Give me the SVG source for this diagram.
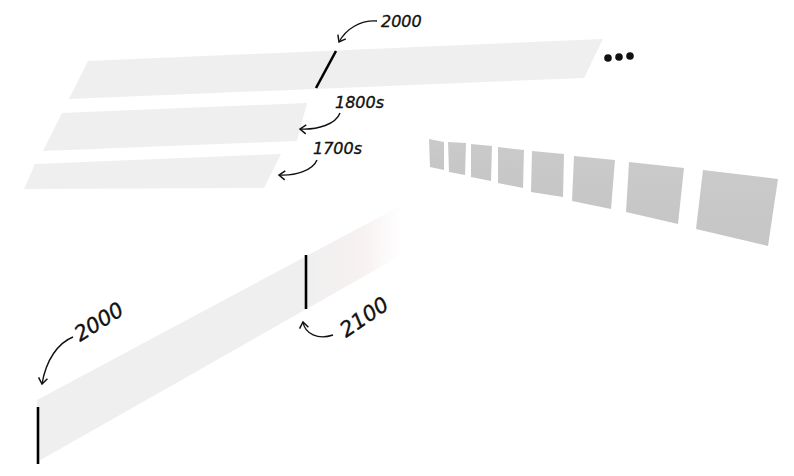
<svg xmlns="http://www.w3.org/2000/svg" width="794" height="476" viewBox="0 0 794 476">
<style>
.band{fill:#efefef}
.sq{fill:url(#sqg)}
.tick{stroke:#000;stroke-width:2.6;fill:none}
.lbl{font-family:"DejaVu Sans",sans-serif;font-style:italic;font-size:16px;fill:#111;stroke:#111;stroke-width:0.35}
.big{font-size:21px}
.arr{stroke:#111;stroke-width:1.4;fill:none;marker-end:url(#ah)}
</style>
<defs>
<linearGradient id="sqg" x1="0" y1="0" x2="0" y2="1">
<stop offset="0" stop-color="#cacaca"/><stop offset="1" stop-color="#c6c6c6"/>
</linearGradient>
<linearGradient id="fade" gradientUnits="userSpaceOnUse" x1="300" y1="0" x2="402" y2="0">
<stop offset="0" stop-color="#efefef"/><stop offset="0.6" stop-color="#f7f1f1"/><stop offset="1" stop-color="#ffffff"/>
</linearGradient>
<marker id="ah" markerUnits="userSpaceOnUse" markerWidth="14" markerHeight="14" refX="0" refY="0" viewBox="-8 -7 10 14" orient="auto">
<path d="M-6,-4.5 L0,0 L-6,4.5" fill="none" stroke="#111" stroke-width="1.5"/>
</marker>
</defs>

<g id="band-2000">
<polygon class="band" points="88,61 603,39 584,78 69,99"/>
<line class="tick" x1="336" y1="51" x2="316" y2="88"/>
</g>
<g id="dots" fill="#111">
<circle cx="608" cy="58" r="3.8"/><circle cx="619" cy="57" r="3.8"/><circle cx="630" cy="56" r="3.8"/>
</g>
<g id="band-1800s">
<polygon class="band" points="62,113 307,103 297,141 43,151"/>
</g>
<g id="band-1700s">
<polygon class="band" points="35,164 281,154 264,188 24,189"/>
</g>

<g id="squares">
<polygon class="sq" points="429,139 444,142 444,170 430,167"/>
<polygon class="sq" points="448,142 466,143 465,175 449,172"/>
<polygon class="sq" points="471,144 492,146 491,181 471,177"/>
<polygon class="sq" points="498,147 524,150 523,188 498,183"/>
<polygon class="sq" points="532,151 564,154 563,197 531,192"/>
<polygon class="sq" points="574,156 615,160 611,209 572,201"/>
<polygon class="sq" points="629,162 684,168 678,224 626,212"/>
<polygon class="sq" points="703,170 778,179 768,246 696,229"/>
</g>

<g id="band-future">
<polygon points="37,400 400,206 400,256 37,462" fill="url(#fade)"/>
<line class="tick" x1="38" y1="407" x2="38" y2="464"/>
<line class="tick" x1="306" y1="255" x2="306" y2="309"/>
</g>

<g id="labels">
<text class="lbl" x="381" y="27">2000</text>
<text class="lbl" x="335" y="108">1800s</text>
<text class="lbl" x="313" y="154">1700s</text>
<text class="lbl big" transform="translate(80,342) rotate(-32)">2000</text>
<text class="lbl big" transform="translate(346,338) rotate(-34)">2100</text>
</g>

<g id="connectors">
<path class="arr" d="M377,21 C360,20 346,29 339,42"/>
<path class="arr" d="M340,113 C336,124 318,130 300,129"/>
<path class="arr" d="M317,160 C313,170 296,176 279,175"/>
<path class="arr" d="M73,337 C58,343 46,360 42,384"/>
<path class="arr" d="M333,335 C318,340 305,334 303,322"/>
</g>
</svg>
